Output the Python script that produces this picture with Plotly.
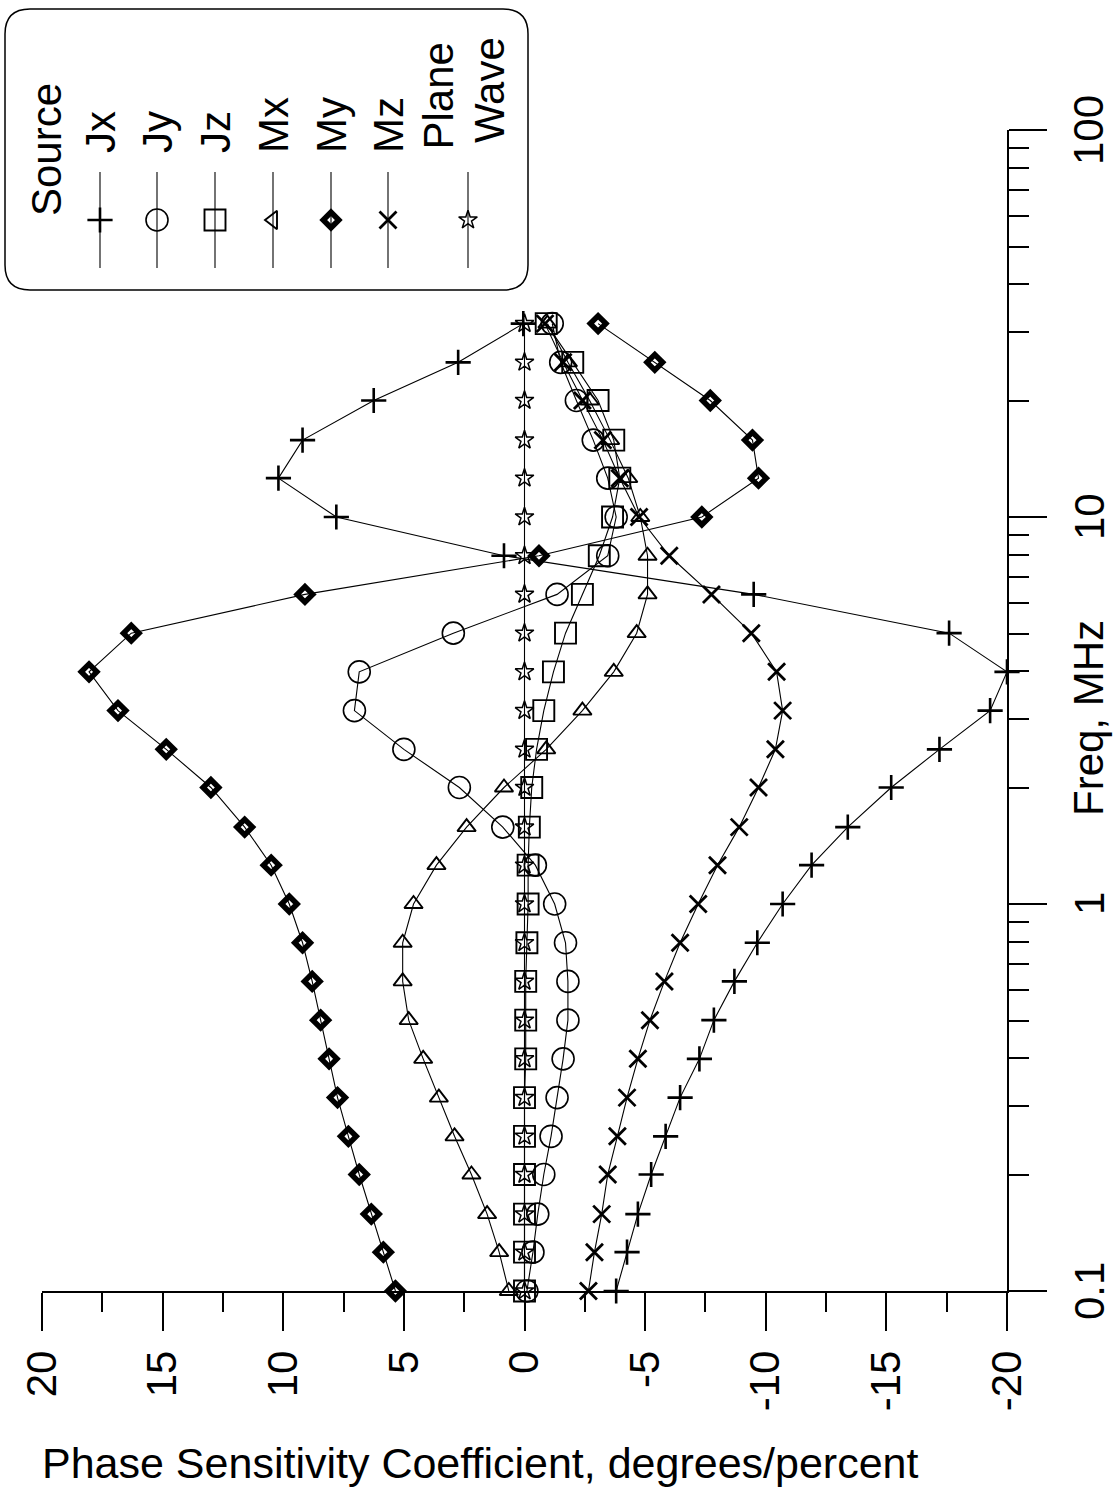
import math
import plotly.graph_objects as go

# ---------------- data ----------------
freq_mhz = [0.1, 0.126, 0.158, 0.2, 0.251, 0.316, 0.398, 0.501, 0.631, 0.794,
            1.0, 1.26, 1.58, 2.0, 2.51, 3.16, 3.98, 5.01, 6.31, 7.94,
            10.0, 12.6, 15.8, 20.0, 25.1, 31.6]

jx = [-3.8, -4.25, -4.7, -5.25, -5.85, -6.45, -7.25, -7.85, -8.7, -9.65,
      -10.7, -11.9, -13.4, -15.2, -17.2, -19.3, -20.0, -17.6, -9.5, 0.85,
      7.8, 10.2, 9.2, 6.25, 2.75, 0.05]
jy = [-0.1, -0.35, -0.55, -0.8, -1.1, -1.35, -1.6, -1.8, -1.8, -1.7,
      -1.25, -0.45, 0.9, 2.7, 5.0, 7.05, 6.85, 2.95, -1.35, -3.45,
      -3.8, -3.45, -2.85, -2.15, -1.5, -1.15]
jz = [0.0, 0.0, 0.0, 0.0, 0.0, 0.0, -0.05, -0.05, -0.05, -0.1,
      -0.15, -0.15, -0.2, -0.3, -0.5, -0.8, -1.2, -1.7, -2.4, -3.1,
      -3.65, -3.95, -3.7, -3.05, -2.0, -0.9]
mx = [0.65, 1.05, 1.55, 2.2, 2.9, 3.55, 4.2, 4.8, 5.05, 5.05,
      4.6, 3.65, 2.4, 0.85, -0.9, -2.4, -3.7, -4.65, -5.1, -5.1,
      -4.8, -4.3, -3.55, -2.7, -1.8, -0.95]
my = [5.35, 5.85, 6.35, 6.85, 7.3, 7.75, 8.1, 8.45, 8.8, 9.2,
      9.75, 10.5, 11.6, 13.0, 14.85, 16.85, 18.05, 16.3, 9.1, -0.6,
      -7.35, -9.7, -9.45, -7.7, -5.4, -3.05]
mz = [-2.65, -2.9, -3.2, -3.45, -3.85, -4.25, -4.7, -5.2, -5.8, -6.45,
      -7.2, -8.0, -8.9, -9.7, -10.4, -10.7, -10.45, -9.4, -7.75, -6.0,
      -4.75, -3.95, -3.25, -2.4, -1.6, -0.85]
plane_wave = [0, 0, 0, 0, 0, 0, 0, 0, 0, 0,
              0, 0, 0, 0, 0, 0, 0, 0, 0, 0,
              0, 0, 0, 0, 0, 0]

series_names = ["Jx", "Jy", "Jz", "Mx", "My", "Mz", "Plane Wave"]
series_values = [jx, jy, jz, mx, my, mz, plane_wave]

x_tick_vals = [20, 15, 10, 5, 0, -5, -10, -15, -20]
x_tick_text = ["20", "15", "10", "5", "0", "-5", "-10", "-15", "-20"]
y_tick_vals = [0.1, 1, 10, 100]
y_tick_text = ["0.1", "1", "10", "100"]
y_minor_vals = [0.2, 0.3, 0.4, 0.5, 0.6, 0.7, 0.8, 0.9,
                2, 3, 4, 5, 6, 7, 8, 9,
                20, 30, 40, 50, 60, 70, 80, 90]

x_title = "Phase Sensitivity Coefficient, degrees/percent"
y_title = "Freq, MHz"
legend_header = "Source"

# ---------------- styles / layout ----------------
W, H = 1114, 1490
PL, PR, PT, PB = 42, 1007, 130, 1291   # plot area in pixels
FONT = "Liberation Sans, Arial, Helvetica, sans-serif"
FS = 42

styles = {
    "Jx": dict(symbol="cross-thin-open", size=18, line=dict(width=2.6, color="black")),
    "Jy": dict(symbol="circle-open", size=22, line=dict(width=1.6, color="black")),
    "Jz": dict(symbol="square-open", size=21, line=dict(width=1.9, color="black")),
    "Mx": dict(symbol="triangle-up-open", size=16, line=dict(width=1.9, color="black")),
    "My": dict(symbol="diamond-open", size=12, line=dict(width=5.5, color="black")),
    "Mz": dict(symbol="x-thin-open", size=17, line=dict(width=2.8, color="black")),
    "Plane Wave": dict(symbol="star-open", size=14, line=dict(width=1.5, color="black")),
}
legend_symbols = dict(styles)
legend_symbols["Mx"] = dict(styles["Mx"], symbol="triangle-left-open")

def px_x(px):
    return px / W

def px_y(py):
    return 1 - py / H

fig = go.Figure()

for name, vals in zip(series_names, series_values):
    fig.add_trace(go.Scatter(
        x=vals, y=freq_mhz, mode="lines+markers", name=name,
        line=dict(color="black", width=1.1),
        marker=dict(color="black", **styles[name]),
        cliponaxis=False, showlegend=False,
        xaxis="x", yaxis="y",
    ))

# ---------- hand-drawn rotated legend (pixel coordinate overlay axes) ----------
leg_x = [100, 157, 215, 273, 331, 388, 468]
leg_line_top, leg_line_bot, leg_mark_y = 172, 268, 220
for name, lx in zip(series_names, leg_x):
    fig.add_trace(go.Scatter(
        x=[lx, lx], y=[leg_line_top, leg_line_bot], mode="lines",
        line=dict(color="black", width=1.1), showlegend=False,
        xaxis="x2", yaxis="y2", hoverinfo="skip",
    ))
    fig.add_trace(go.Scatter(
        x=[lx], y=[leg_mark_y], mode="markers",
        marker=dict(color="black", **legend_symbols[name]), showlegend=False,
        xaxis="x2", yaxis="y2", hoverinfo="skip", cliponaxis=False,
    ))

# rounded legend box
bx0, by0, bx1, by1, r = 5, 9, 528, 290, 25
box_path = (f"M {bx0+r},{by0} L {bx1-r},{by0} Q {bx1},{by0} {bx1},{by0+r} "
            f"L {bx1},{by1-r} Q {bx1},{by1} {bx1-r},{by1} "
            f"L {bx0+r},{by1} Q {bx0},{by1} {bx0},{by1-r} "
            f"L {bx0},{by0+r} Q {bx0},{by0} {bx0+r},{by0} Z")
fig.add_shape(type="path", path=box_path, xref="x2", yref="y2",
              line=dict(color="black", width=1.5), layer="above")

annotations = []
annotations.append(dict(text=legend_header, x=px_x(47), y=px_y(150), xref="paper", yref="paper",
                        textangle=-90, showarrow=False, xanchor="center", yanchor="middle",
                        font=dict(family=FONT, size=FS, color="black")))
label_bottom = 154
for name, lx in zip(series_names[:6], leg_x[:6]):
    annotations.append(dict(text=name, x=px_x(lx), y=px_y(label_bottom), xref="paper", yref="paper",
                            textangle=-90, showarrow=False, xanchor="center", yanchor="bottom",
                            font=dict(family=FONT, size=FS, color="black"), borderpad=0))
annotations.append(dict(text="Plane", x=px_x(438), y=px_y(151), xref="paper", yref="paper",
                        textangle=-90, showarrow=False, xanchor="center", yanchor="bottom",
                        font=dict(family=FONT, size=FS, color="black"), borderpad=0))
annotations.append(dict(text="Wave", x=px_x(489), y=px_y(144), xref="paper", yref="paper",
                        textangle=-90, showarrow=False, xanchor="center", yanchor="bottom",
                        font=dict(family=FONT, size=FS, color="black"), borderpad=0))
# frequency tick labels (rotated, centred on their ticks)
for tv, tt in zip(y_tick_vals, y_tick_text):
    annotations.append(dict(text=tt, x=px_x(1089), y=math.log10(tv), xref="paper", yref="y",
                            textangle=-90, showarrow=False, xanchor="center", yanchor="middle",
                            font=dict(family=FONT, size=FS, color="black"), borderpad=0))
# axis titles
annotations.append(dict(text=x_title, x=px_x(480), y=px_y(1463), xref="paper", yref="paper",
                        showarrow=False, xanchor="center", yanchor="middle",
                        font=dict(family=FONT, size=FS + 1, color="black")))
annotations.append(dict(text=y_title, x=px_x(1088), y=px_y(718), xref="paper", yref="paper",
                        textangle=-90, showarrow=False, xanchor="center", yanchor="middle",
                        font=dict(family=FONT, size=FS, color="black")))

fig.update_layout(
    width=W, height=H,
    margin=dict(l=0, r=0, t=0, b=0, pad=0),
    paper_bgcolor="white", plot_bgcolor="rgba(0,0,0,0)",
    showlegend=False,
    annotations=annotations,
    xaxis=dict(
        domain=[px_x(PL), px_x(PR)], range=[20, -20], anchor="y",
        showgrid=False, zeroline=False, showline=True, linecolor="black", linewidth=1.5,
        tickmode="array", tickvals=x_tick_vals, ticktext=x_tick_text,
        ticks="outside", ticklen=38, tickwidth=1.5, tickcolor="black",
        tickangle=-90, tickfont=dict(family=FONT, size=FS, color="black"),
        ticklabelstandoff=3,
        minor=dict(dtick=2.5, tick0=0, ticks="outside", ticklen=19, tickwidth=1.5, tickcolor="black"),
        automargin=False, fixedrange=True,
    ),
    yaxis=dict(
        domain=[px_y(PB), px_y(PT)], type="log", range=[-1, 2], anchor="x", side="right",
        showgrid=False, zeroline=False, showline=True, linecolor="black", linewidth=1.5,
        tickmode="array", tickvals=y_tick_vals, showticklabels=False,
        ticks="outside", ticklen=38, tickwidth=1.5, tickcolor="black",
        minor=dict(tickmode="array", tickvals=y_minor_vals, ticks="outside", ticklen=20,
                   tickwidth=1.5, tickcolor="black"),
        automargin=False, fixedrange=True,
    ),
    xaxis2=dict(domain=[0, 1], range=[0, W], visible=False, anchor="y2", fixedrange=True),
    yaxis2=dict(domain=[0, 1], range=[H, 0], visible=False, anchor="x2", fixedrange=True),
)

fig.write_html("out.html")
